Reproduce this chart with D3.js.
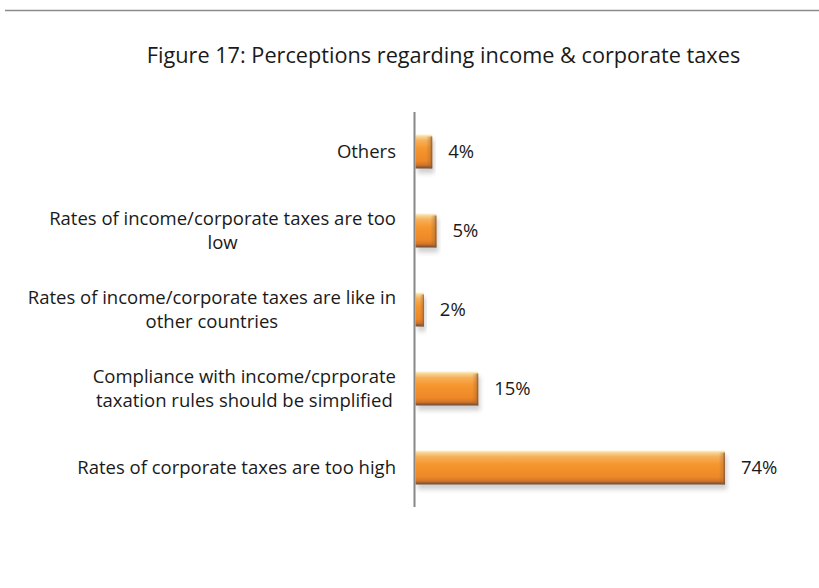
<!DOCTYPE html>
<html>
<head>
<meta charset="utf-8">
<script src="https://cdn.jsdelivr.net/npm/d3@7"></script>
<style>
  html, body { margin: 0; padding: 0; background: #ffffff; }
  svg { display: block; }
  text { font-family: "Open Sans", Lato, sans-serif; fill: #1a1a1a; }
</style>
</head>
<body>
<svg id="chart" width="819" height="588"></svg>
<script>
// Survey responses, listed top to bottom as drawn
const categories = [
  "Others",
  "Rates of income/corporate taxes are too low",
  "Rates of income/corporate taxes are like in other countries",
  "Compliance with income/cprporate taxation rules should be simplified",
  "Rates of corporate taxes are too high"
];
// Line breaks used for each category label
const categoryLines = [
  ["Others"],
  ["Rates of income/corporate taxes are too", "low"],
  ["Rates of income/corporate taxes are like in", "other countries"],
  ["Compliance with income/cprporate", "taxation rules should be simplified"],
  ["Rates of corporate taxes are too high"]
];
const shares = [4, 5, 2, 15, 74];
const valueLabels = ["4%", "5%", "2%", "15%", "74%"];
const titleText = "Figure 17: Perceptions regarding income & corporate taxes";

const svg = d3.select("#chart");
const W = 819, H = 588;

// Rule across the top of the page
svg.append("line")
  .attr("x1", 5).attr("x2", W)
  .attr("y1", 10.5).attr("y2", 10.5)
  .attr("stroke", "#8a8a8a").attr("stroke-width", 1.5);

svg.append("text")
  .attr("x", 443.5).attr("y", 55)
  .attr("dy", "0.36em")
  .attr("text-anchor", "middle")
  .style("font-size", "21.7px")
  .text(titleText);

const x = d3.scaleLinear().domain([0, 80]).range([415.5, 750]);
const y = d3.scaleBand().domain(categories).range([112, 507])
  .paddingInner(0.57).paddingOuter(0.285);

const defs = svg.append("defs");
const grad = defs.append("linearGradient")
  .attr("id", "barFill").attr("x1", 0).attr("y1", 0).attr("x2", 0).attr("y2", 1);
[
  [0.00, "#fdf1cf"], [0.07, "#f9d391"], [0.18, "#f7b05a"],
  [0.40, "#f5972f"], [0.78, "#ee8727"], [0.90, "#d27429"],
  [0.96, "#8e5a34"], [1.00, "#6e4a33"]
].forEach(([o, c]) => grad.append("stop").attr("offset", o).attr("stop-color", c));

const endGrad = defs.append("linearGradient")
  .attr("id", "barEnd").attr("x1", 0).attr("y1", 0).attr("x2", 1).attr("y2", 0);
endGrad.append("stop").attr("offset", 0).attr("stop-color", "#8a5a30").attr("stop-opacity", 0);
endGrad.append("stop").attr("offset", 0.6).attr("stop-color", "#a86a32").attr("stop-opacity", 0.35);
endGrad.append("stop").attr("offset", 1).attr("stop-color", "#6e4a33").attr("stop-opacity", 0.85);

const blur = defs.append("filter").attr("id", "shadowBlur")
  .attr("x", "-10%").attr("y", "-50%").attr("width", "120%").attr("height", "200%");
blur.append("feGaussianBlur").attr("stdDeviation", 2);

const rows = categories.map((c, i) => ({ cat: c, v: shares[i], label: valueLabels[i], lines: categoryLines[i] }));

const bars = svg.append("g");
// soft shadow under each bar
bars.selectAll("rect.shadow").data(rows).join("rect")
  .attr("class", "shadow")
  .attr("x", x(0) + 2)
  .attr("y", d => y(d.cat) + 5)
  .attr("width", d => x(d.v) - x(0))
  .attr("height", y.bandwidth())
  .attr("fill", "#9a9a9a").attr("opacity", 0.45)
  .attr("filter", "url(#shadowBlur)");

bars.selectAll("rect.bar").data(rows).join("rect")
  .attr("class", "bar")
  .attr("x", x(0))
  .attr("y", d => y(d.cat))
  .attr("width", d => x(d.v) - x(0))
  .attr("height", y.bandwidth())
  .attr("fill", "url(#barFill)");

// darkened bevel at the end of each bar
bars.selectAll("rect.end").data(rows).join("rect")
  .attr("class", "end")
  .attr("x", d => x(d.v) - Math.min(6, (x(d.v) - x(0)) / 2))
  .attr("y", d => y(d.cat) + 2)
  .attr("width", d => Math.min(6, (x(d.v) - x(0)) / 2))
  .attr("height", y.bandwidth() - 2)
  .attr("fill", "url(#barEnd)");

// value labels
svg.append("g").selectAll("text").data(rows).join("text")
  .attr("x", d => x(d.v) + 16)
  .attr("y", d => y(d.cat) + y.bandwidth() / 2)
  .attr("dy", "0.36em")
  .style("font-size", "18.5px")
  .text(d => d.label);

// category axis line
svg.append("line")
  .attr("x1", 414.5).attr("x2", 414.5)
  .attr("y1", 112).attr("y2", 507)
  .attr("stroke", "#878787").attr("stroke-width", 2);

// category labels: block right-aligned, lines centred within the block
const lineH = 24;
const labelRight = 396;
const catG = svg.append("g");
rows.forEach(d => {
  const g = catG.append("text").style("font-size", "18.5px").attr("text-anchor", "middle");
  const spans = d.lines.map((ln, k) => g.append("tspan").text(ln));
  const widths = spans.map(s => s.node().getComputedTextLength());
  const maxW = d3.max(widths);
  const cx = labelRight - maxW / 2;
  const cy = y(d.cat) + y.bandwidth() / 2;
  const top = cy - (d.lines.length - 1) * lineH / 2;
  spans.forEach((s, k) => s.attr("x", cx).attr("y", top + k * lineH).attr("dy", "0.36em"));
});
</script>
</body>
</html>
